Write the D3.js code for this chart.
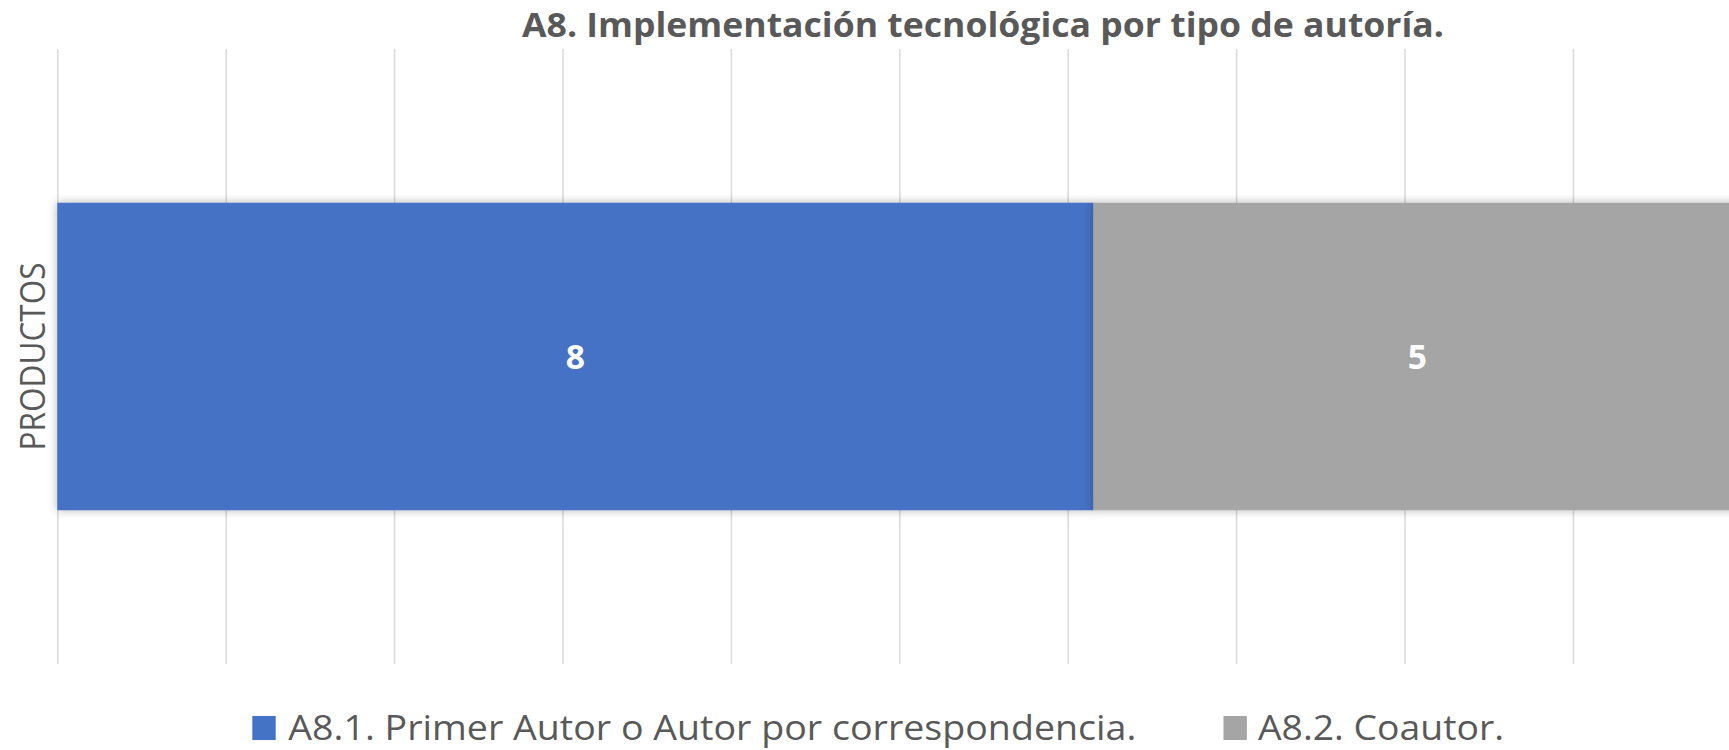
<!DOCTYPE html>
<html>
<head>
<meta charset="utf-8">
<script src="https://cdn.jsdelivr.net/npm/d3@7"></script>
<style>
  body { margin: 0; background: #fff; }
  text { font-family: "Open Sans", sans-serif; fill: #595959; }
</style>
</head>
<body>
<div id="chart"></div>
<script>
// data
let categories = ['PRODUCTOS'];
let seriesNames = ['A8.1. Primer Autor o Autor por correspondencia.', 'A8.2. Coautor.'];
let primerAutor = [8];
let coautor = [5];
let seriesColors = ['#4472C4', '#A5A5A5'];
let gridTicks = [0, 0.1, 0.2, 0.3, 0.4, 0.5, 0.6, 0.7, 0.8, 0.9, 1];
let title = 'A8. Implementación tecnológica por tipo de autoría.';

let width = 1729;
let height = 750;

// plot area (right side runs past the picture edge, like the original)
let plot = { left: 57.3, right: 1741.3, top: 49, bottom: 664 };

let svg = d3.select('#chart')
    .append('svg')
    .attr('width', width)
    .attr('height', height);

// soft shadow around the bars
let filter = svg.append('defs').append('filter')
    .attr('id', 'shadow')
    .attr('x', '-5%').attr('y', '-20%')
    .attr('width', '110%').attr('height', '140%');
filter.append('feDropShadow')
    .attr('dx', 0)
    .attr('dy', 0)
    .attr('stdDeviation', 5)
    .attr('flood-color', '#000')
    .attr('flood-opacity', 0.3);

// build table for stacking
let table = categories.map((c, i) => ({
    cat: c,
    s0: primerAutor[i],
    s1: coautor[i]
}));
let stacked = d3.stack()
    .keys(['s0', 's1'])
    .offset(d3.stackOffsetExpand)(table);

let x = d3.scaleLinear()
    .domain([0, 1])
    .range([plot.left, plot.right]);

let y = d3.scaleBand()
    .domain(categories)
    .range([plot.top, plot.bottom])
    .padding(1 / 3);

// gridlines
svg.append('g')
    .attr('transform', `translate(0,${plot.bottom})`)
    .call(d3.axisBottom(x).tickValues(gridTicks).tickSize(-(plot.bottom - plot.top)).tickFormat(''))
    .call(g => g.select('.domain').remove())
    .call(g => g.selectAll('line').attr('stroke', '#D9D9D9').attr('stroke-width', 1.5));

// bars
let groups = svg.selectAll('.serie')
    .data(stacked)
    .enter()
    .append('g')
    .attr('class', 'serie')
    .attr('fill', (d, i) => seriesColors[i]);

groups.selectAll('rect')
    .data(d => d)
    .enter()
    .append('rect')
    .attr('x', d => x(d[0]))
    .attr('y', d => y(d.data.cat))
    .attr('width', d => x(d[1]) - x(d[0]))
    .attr('height', y.bandwidth())
    .attr('filter', 'url(#shadow)');

// value labels
let vals = [primerAutor, coautor];
groups.each(function (s, si) {
    d3.select(this).selectAll('.lbl')
        .data(s)
        .enter()
        .append('text')
        .attr('class', 'lbl')
        .text((d, i) => vals[si][i])
        .attr('x', d => (x(d[0]) + x(d[1])) / 2)
        .attr('y', d => y(d.data.cat) + y.bandwidth() / 2 + 12)
        .attr('text-anchor', 'middle')
        .style('font-weight', 'bold')
        .style('font-size', '33.6px')
        .style('fill', '#fff');
});

// title
svg.append('text')
    .text(title)
    .attr('x', 522)
    .attr('y', 36.7)
    .attr('textLength', 922)
    .attr('lengthAdjust', 'spacingAndGlyphs')
    .style('font-weight', 'bold')
    .style('font-size', '33.6px');

// category axis label (vertical)
svg.append('text')
    .text(categories[0])
    .attr('transform', `translate(45,${y(categories[0]) + y.bandwidth() / 2}) rotate(-90)`)
    .attr('text-anchor', 'middle')
    .attr('textLength', 188)
    .attr('lengthAdjust', 'spacingAndGlyphs')
    .style('font-size', '35px');

// legend
let legendItems = [
    { sx: 252.3, tx: 288.3, len: 848 },
    { sx: 1223.5, tx: 1258, len: 246 }
];
let legend = svg.selectAll('.legend')
    .data(seriesNames)
    .enter()
    .append('g')
    .attr('class', 'legend');

legend.append('rect')
    .attr('x', (d, i) => legendItems[i].sx)
    .attr('y', 716)
    .attr('width', 23.4)
    .attr('height', 24)
    .attr('fill', (d, i) => seriesColors[i]);

legend.append('text')
    .text(d => d)
    .attr('x', (d, i) => legendItems[i].tx)
    .attr('y', 740)
    .attr('textLength', (d, i) => legendItems[i].len)
    .attr('lengthAdjust', 'spacingAndGlyphs')
    .style('font-size', '35px');
</script>
</body>
</html>
